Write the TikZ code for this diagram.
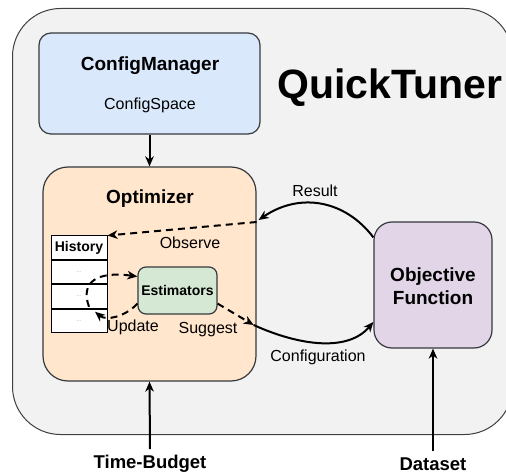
\documentclass[tikz,border=0pt]{standalone}
\usepackage{fontspec}
\setmainfont{Liberation Sans}
\usetikzlibrary{arrows.meta,calc}
\definecolor{cfgfill}{HTML}{DAE8FC}
\definecolor{optfill}{HTML}{FFE6CC}
\definecolor{estfill}{HTML}{D5E8D4}
\definecolor{objfill}{HTML}{E1D5E7}
\definecolor{panelfill}{HTML}{F2F2F2}
\definecolor{strokegray}{HTML}{36393D}
\begin{document}
\begin{tikzpicture}[x=1pt,y=-1pt,
  box/.style={draw=strokegray, line width=1.2pt, inner sep=0pt},
  cell/.style={draw=black, line width=1pt, fill=white, minimum width=56pt, inner sep=0pt},
  head/.style={font=\fontsize{19}{23}\selectfont\bfseries, inner sep=1pt, align=center},
  lbl/.style={font=\fontsize{16}{19}\selectfont, inner sep=1pt},
  dots/.style={font=\fontsize{5}{6}\selectfont, text=gray},
  tip/.style={-{Stealth[length=10pt,width=8.5pt,inset=3pt]}},
  flow/.style={tip, line width=2pt},
  dflow/.style={tip, line width=2pt, dash pattern=on 7pt off 5pt}]
\clip (0,0) rectangle (506,473);
\fill[white] (0,0) rectangle (506,473);

% outer panel
\node[box, draw=black!75, line width=1pt, fill=panelfill, rounded corners=48pt,
      minimum width=500pt, minimum height=426pt, anchor=north west] (qt) at (12,8) {};
\node[font=\fontsize{41}{48}\selectfont\bfseries, inner sep=0pt] (qtname) at (390,88) {QuickTuner};

% config manager
\node[box, fill=cfgfill, rounded corners=12pt, minimum width=221pt, minimum height=101pt] (cfg) at (149.5,83.5) {};
\node[head] (cfgtitle) at (150,66) {ConfigManager};
\node[lbl] (cfgsub) at (150,105) {ConfigSpace};

% optimizer
\node[box, fill=optfill, rounded corners=25pt, minimum width=213pt, minimum height=214pt] (opt) at (149.5,274) {};
\node[head] (opttitle) at (150,199) {Optimizer};

% history table
\node[cell, minimum height=23pt, font=\fontsize{14}{17}\selectfont\bfseries] (hist) at (79,247.5) {History};
\node[cell, minimum height=23.5pt, anchor=north] (row1) at (hist.south) {};
\node[cell, minimum height=23.5pt, anchor=north] (row2) at (row1.south) {};
\node[cell, minimum height=23.5pt, anchor=north] (row3) at (row2.south) {};
\node[dots] (d1) at (row1) {...};
\node[dots] (d2) at (row2) {...};
\node[dots] (d3) at (row3) {...};

% estimators
\node[box, fill=estfill, rounded corners=8pt, minimum width=79pt, minimum height=47pt,
      font=\fontsize{14}{17}\selectfont\bfseries] (est) at (177.5,290.5) {Estimators};

% objective function
\node[box, fill=objfill, rounded corners=18pt, minimum width=118pt, minimum height=126pt] (obj) at (433,285) {};
\node[head] (objtitle) at (433,286) {Objective\\Function};

% external inputs
\node[head, font=\fontsize{18.5}{22}\selectfont\bfseries] (tb) at (150,464) {Time-Budget};
\node[head, font=\fontsize{18.5}{22}\selectfont\bfseries] (ds) at (433,464) {Dataset};

% connectors
\draw[flow] (cfg.south) -- (opt.north);
\draw[flow] ([yshift=5pt]tb.north) -- (opt.south);
\draw[flow] ([yshift=5pt]ds.north) -- (obj.south);

\draw[flow] ([yshift=-16pt]obj.north west)
  .. controls (345,200) and (300,192) .. ([xshift=2pt,yshift=54pt]opt.east);
\node[lbl] (reslbl) at (315,191) {Result};

\draw[dflow] ([yshift=52pt]opt.east) -- (hist.north east);
\node[lbl] (obslbl) at (190,243) {Observe};

\draw[dflow] ([yshift=11pt]est.south west)
  .. controls (125,317) and (106,321) .. ([xshift=16pt,yshift=9pt]row3.center);
\draw[dflow] ([xshift=10pt,yshift=14pt]row3.center)
  .. controls (80,282) and (97,271) .. ([yshift=14pt]est.west);
\node[lbl] (updlbl) at (133,327) {Update};

\coordinate (sg) at ([xshift=-3pt,yshift=-51pt]opt.east);
\draw[dflow] ([yshift=11pt]est.south east) -- (sg);
\node[lbl] (sglbl) at (208,330) {Suggest};

\draw[flow] (sg) .. controls (300,346) and (348,352) .. ([yshift=-37pt]obj.west);
\node[lbl] (conflbl) at (318,357) {Configuration};
\end{tikzpicture}
\end{document}
